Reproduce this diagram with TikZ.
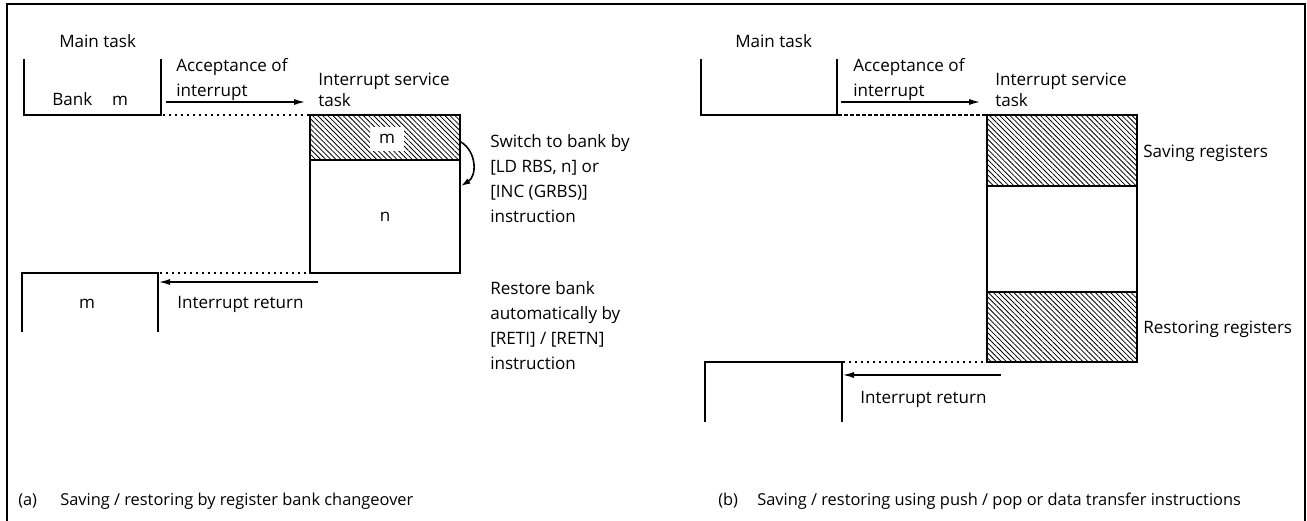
\documentclass[tikz,border=0pt]{standalone}
\usepackage{fontspec}
\setmainfont{Open Sans}
\usetikzlibrary{arrows.meta,patterns.meta}
\begin{document}
\begin{tikzpicture}[x=0.75pt,y=-0.75pt,
  txt/.style={anchor=base west,inner sep=0pt,font=\fontsize{12.8}{15}\selectfont},
  ctxt/.style={anchor=base,inner sep=0pt,font=\fontsize{12.8}{15}\selectfont},
  captxt/.style={anchor=base west,inner sep=0pt,font=\fontsize{12.3}{15}\selectfont},
  ln/.style={line width=1.4pt},
  frame/.style={line width=2.2pt},
  arr/.style={line width=1.4pt,-{Latex[length=9pt,width=4.5pt]}},
  dots/.style={line width=1.5pt,dash pattern=on 1.5pt off 3pt},
  dsh/.style={line width=1.5pt,dash pattern=on 3pt off 1.5pt},
  hatch/.style={pattern={Lines[angle=-45,distance=2.7pt,line width=0.6pt]}}]
\useasboundingbox (0,0) rectangle (1307,521);
% frame
\draw[frame] (7,523) -- (7,4) -- (1305,4) -- (1305,523);

% ===== panel (a) =====
\node[txt] (amain) at (59,47) {Main task};
\draw[ln] (24,59) -- (24,115) -- (161,115) -- (161,59);
\node[txt] (abank) at (52,105) {Bank};
\node[ctxt] (abm) at (120,105) {m};
\coordinate (aa1) at (166,102);
\coordinate (aa2) at (306,102);
\draw[arr] (aa1) -- (aa2);
\node[txt] (aacc1) at (176,71) {Acceptance of};
\node[txt] (aacc2) at (176,96) {interrupt};
\node[txt] (aist1) at (318,85) {Interrupt service};
\node[txt] (aist2) at (318,106) {task};
\coordinate (ad1) at (163,115);
\coordinate (ad2) at (309,115);
\draw[dots] (ad1) -- (ad2);
% box
\fill[hatch] (310,115) rectangle (460,160);
\draw[ln] (310,115) rectangle (460,273);
\draw[ln] (310,160) -- (460,160);
\node[fill=white,minimum width=26pt,minimum height=18pt,inner sep=0pt,
      font=\fontsize{12.8}{15}\selectfont] (abm2) at (387,139) {m};
\node[ctxt] (abn) at (385,221) {n};
\coordinate (ac1) at (461,142);
\coordinate (ac2) at (461,186);
\draw[line width=1.2pt,-{Latex[length=7pt,width=4.5pt]}] (ac1) .. controls (477,152) and (477,176) .. (ac2);
\node[txt] (asw1) at (490,147) {Switch to bank by};
\node[txt] (asw2) at (490,172) {[LD RBS, n] or};
\node[txt] (asw3) at (490,197) {[INC (GRBS)]};
\node[txt] (asw4) at (490,222) {instruction};
\node[txt] (ars1) at (490,294) {Restore bank};
\node[txt] (ars2) at (490,319) {automatically by};
\node[txt] (ars3) at (490,344) {[RETI] / [RETN]};
\node[txt] (ars4) at (490,369) {instruction};
% return
\coordinate (ar1) at (160,273);
\coordinate (ar2) at (309,273);
\draw[dots] (ar1) -- (ar2);
\draw[ln] (22,332) -- (22,273) -- (158,273) -- (158,332);
\node[ctxt] (arm) at (87,308) {m};
\coordinate (ara1) at (318,282);
\coordinate (ara2) at (158,282);
\draw[arr] (ara1) -- (ara2);
\node[txt] (aret) at (177,308) {Interrupt return};
\node[captxt] (acap1) at (18,505) {(a)};
\node[captxt] (acap2) at (60,505) {Saving / restoring by register bank changeover};

% ===== panel (b) =====
\node[txt] (bmain) at (735,47) {Main task};
\draw[ln] (701,59) -- (701,115) -- (837,115) -- (837,59);
\coordinate (ba1) at (841,102);
\coordinate (ba2) at (981,102);
\draw[arr] (ba1) -- (ba2);
\node[txt] (bacc1) at (853,71) {Acceptance of};
\node[txt] (bacc2) at (853,96) {interrupt};
\node[txt] (bist1) at (995,85) {Interrupt service};
\node[txt] (bist2) at (995,106) {task};
\coordinate (bd1) at (838,115);
\coordinate (bd2) at (986,115);
\draw[dsh] (bd1) -- (bd2);
% box
\fill[hatch] (987,115) rectangle (1137,186);
\fill[hatch] (987,292) rectangle (1137,362);
\draw[ln] (987,115) rectangle (1137,362);
\draw[ln] (987,186) -- (1137,186);
\draw[ln] (987,292) -- (1137,292);
\node[txt] (bsav) at (1143,157) {Saving registers};
\node[txt] (bres) at (1143,333) {Restoring registers};
% return
\coordinate (br1) at (843,362);
\coordinate (br2) at (986,362);
\draw[dots] (br1) -- (br2);
\draw[ln] (705,422) -- (705,362) -- (842,362) -- (842,422);
\coordinate (bra1) at (1001,375);
\coordinate (bra2) at (842,375);
\draw[arr] (bra1) -- (bra2);
\node[txt] (bret) at (860,403) {Interrupt return};
\node[captxt] (bcap1) at (718,505) {(b)};
\node[captxt] (bcap2) at (757,505) {Saving / restoring using push / pop or data transfer instructions};
\end{tikzpicture}
\end{document}
